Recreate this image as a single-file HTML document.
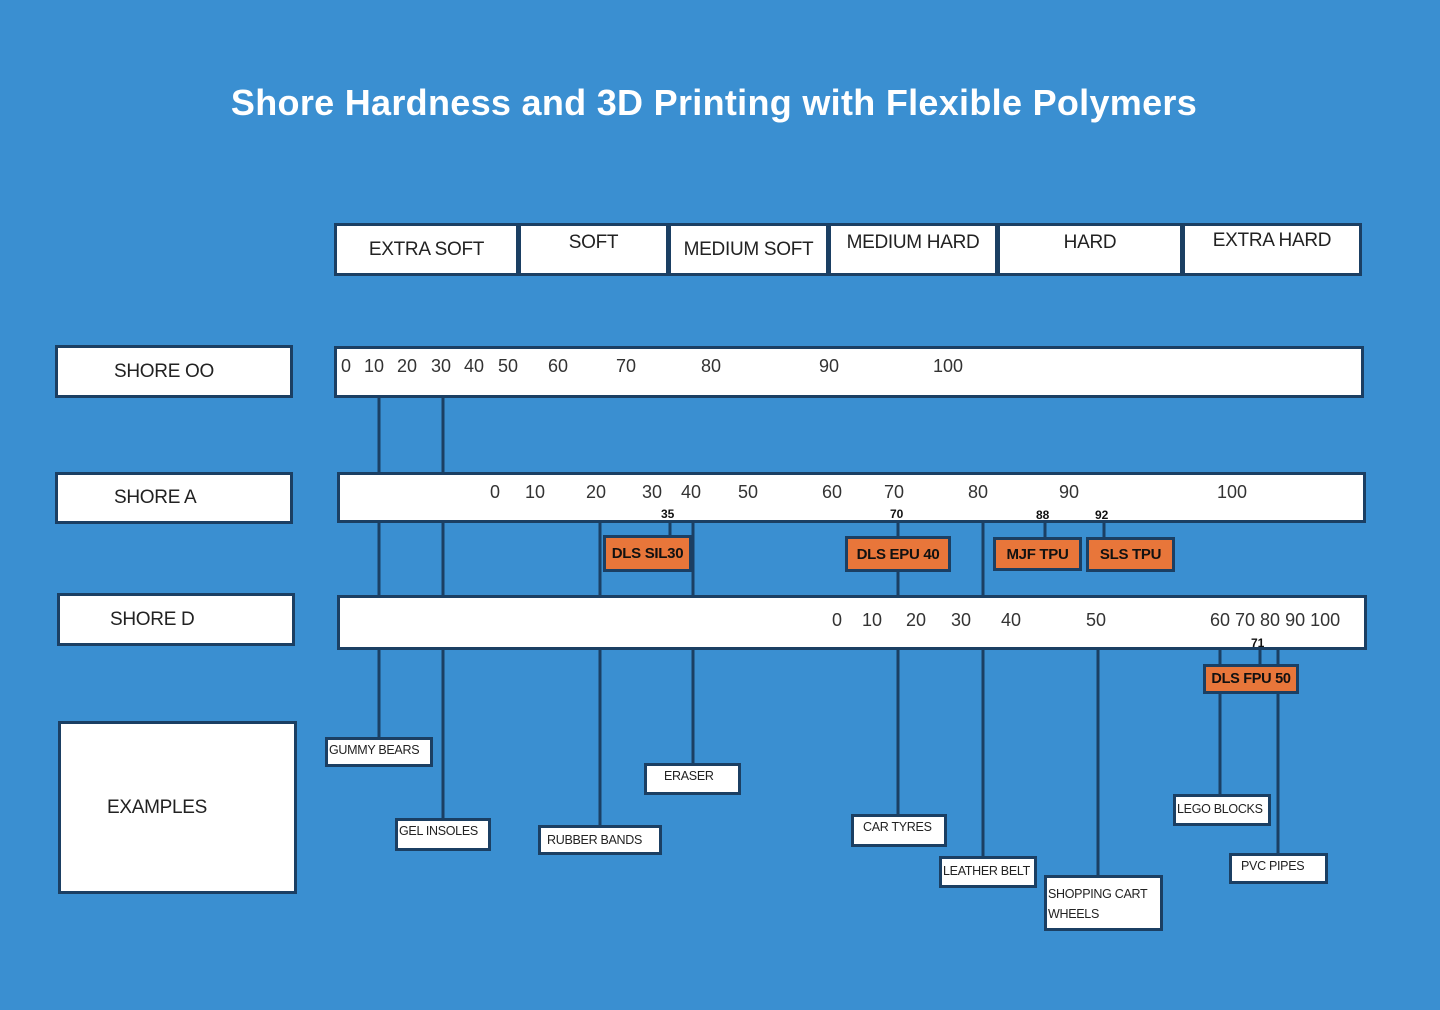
<!DOCTYPE html><html><head><style>
body{margin:0;width:1440px;height:1010px;background:#3a8fd1;position:relative;overflow:hidden;font-family:"Liberation Sans",sans-serif;}
.b{position:absolute;box-sizing:border-box;background:#fff;border:3px solid #1b3f63;color:#222;white-space:nowrap;}
.c{display:flex;align-items:center;justify-content:center;font-size:19px;letter-spacing:-0.3px;}
.t{position:absolute;font-size:18px;color:#333;white-space:nowrap;}
.o{position:absolute;box-sizing:border-box;background:#e8763a;border:3px solid #1b3f63;font-weight:bold;font-size:15px;color:#111;display:flex;align-items:center;justify-content:center;white-space:nowrap;letter-spacing:-0.3px;}
.e{position:absolute;box-sizing:border-box;background:#fff;border:3px solid #1b3f63;font-size:12.5px;color:#222;padding:0 1px;line-height:20px;white-space:nowrap;overflow:hidden;letter-spacing:-0.3px;}
.n{position:absolute;font-size:12px;font-weight:bold;color:#111;}
</style></head><body>
<div style="position:absolute;top:82px;left:0;width:1428px;text-align:center;color:#fff;font-weight:bold;font-size:36px;letter-spacing:0.3px">Shore Hardness and 3D Printing with Flexible Polymers</div>
<svg style="position:absolute;left:0;top:0" width="1440" height="1010"><g stroke="#1b3f63" stroke-width="3">
<line x1="379" y1="395" x2="379" y2="740"/><line x1="443" y1="395" x2="443" y2="820"/>
<line x1="600" y1="520" x2="600" y2="826"/><line x1="693" y1="520" x2="693" y2="765"/>
<line x1="898" y1="520" x2="898" y2="815"/><line x1="983" y1="520" x2="983" y2="857"/>
<line x1="1098" y1="648" x2="1098" y2="876"/><line x1="1220" y1="648" x2="1220" y2="795"/>
<line x1="1278" y1="648" x2="1278" y2="854"/><line x1="1260" y1="648" x2="1260" y2="665"/>
<line x1="670" y1="520" x2="670" y2="537"/><line x1="1045" y1="520" x2="1045" y2="538"/><line x1="1104" y1="520" x2="1104" y2="538"/>
</g></svg>
<div class="b c" style="left:334px;top:223px;width:185px;height:53px">EXTRA SOFT</div>
<div class="b c" style="left:518px;top:223px;width:151px;height:53px;align-items:flex-start;padding-top:6px">SOFT</div>
<div class="b c" style="left:668px;top:223px;width:161px;height:53px">MEDIUM SOFT</div>
<div class="b c" style="left:828px;top:223px;width:170px;height:53px;align-items:flex-start;padding-top:6px">MEDIUM HARD</div>
<div class="b c" style="left:997px;top:223px;width:186px;height:53px;align-items:flex-start;padding-top:6px">HARD</div>
<div class="b c" style="left:1182px;top:223px;width:180px;height:53px;align-items:flex-start;padding-top:4px">EXTRA HARD</div>
<div class="b c" style="left:55px;top:345px;width:238px;height:53px;justify-content:flex-start;padding-left:56px">SHORE OO</div>
<div class="b" style="left:334px;top:346px;width:1030px;height:52px"></div>
<div class="b c" style="left:55px;top:472px;width:238px;height:52px;justify-content:flex-start;padding-left:56px">SHORE A</div>
<div class="b" style="left:337px;top:472px;width:1029px;height:51px"></div>
<div class="b c" style="left:57px;top:593px;width:238px;height:53px;justify-content:flex-start;padding-left:50px">SHORE D</div>
<div class="b" style="left:337px;top:595px;width:1030px;height:55px"></div>
<div class="b c" style="left:58px;top:721px;width:239px;height:173px;justify-content:flex-start;padding-left:46px">EXAMPLES</div>
<div class="t" style="left:341px;top:356px">0</div><div class="t" style="left:364px;top:356px">10</div><div class="t" style="left:397px;top:356px">20</div><div class="t" style="left:431px;top:356px">30</div><div class="t" style="left:464px;top:356px">40</div><div class="t" style="left:498px;top:356px">50</div>
<div class="t" style="left:548px;top:356px">60</div><div class="t" style="left:616px;top:356px">70</div><div class="t" style="left:701px;top:356px">80</div><div class="t" style="left:819px;top:356px">90</div><div class="t" style="left:933px;top:356px">100</div>
<div class="t" style="left:490px;top:482px">0</div><div class="t" style="left:525px;top:482px">10</div><div class="t" style="left:586px;top:482px">20</div><div class="t" style="left:642px;top:482px">30</div><div class="t" style="left:681px;top:482px">40</div><div class="t" style="left:738px;top:482px">50</div><div class="t" style="left:822px;top:482px">60</div><div class="t" style="left:884px;top:482px">70</div><div class="t" style="left:968px;top:482px">80</div><div class="t" style="left:1059px;top:482px">90</div><div class="t" style="left:1217px;top:482px">100</div>
<div class="t" style="left:832px;top:610px">0</div><div class="t" style="left:862px;top:610px">10</div><div class="t" style="left:906px;top:610px">20</div><div class="t" style="left:951px;top:610px">30</div><div class="t" style="left:1001px;top:610px">40</div><div class="t" style="left:1086px;top:610px">50</div><div class="t" style="left:1210px;top:610px">60 70 80 90 100</div>
<div class="n" style="left:661px;top:507px">35</div><div class="n" style="left:890px;top:507px">70</div><div class="n" style="left:1036px;top:508px">88</div><div class="n" style="left:1095px;top:508px">92</div><div class="n" style="left:1251px;top:636px">71</div>
<div class="o" style="left:603px;top:535px;width:89px;height:37px">DLS SIL30</div>
<div class="o" style="left:845px;top:536px;width:106px;height:36px">DLS EPU 40</div>
<div class="o" style="left:993px;top:537px;width:89px;height:34px">MJF TPU</div>
<div class="o" style="left:1086px;top:537px;width:89px;height:35px">SLS TPU</div>
<div class="o" style="left:1203px;top:664px;width:96px;height:30px;font-size:14.5px">DLS FPU 50</div>
<div class="e" style="left:325px;top:737px;width:108px;height:30px">GUMMY BEARS</div>
<div class="e" style="left:395px;top:818px;width:96px;height:33px">GEL INSOLES</div>
<div class="e" style="left:538px;top:825px;width:124px;height:30px;padding-left:6px;line-height:24px">RUBBER BANDS</div>
<div class="e" style="left:644px;top:763px;width:97px;height:32px;padding-left:17px">ERASER</div>
<div class="e" style="left:851px;top:814px;width:96px;height:33px;padding-left:9px">CAR TYRES</div>
<div class="e" style="left:939px;top:856px;width:98px;height:32px;line-height:24px">LEATHER BELT</div>
<div class="e" style="left:1044px;top:875px;width:119px;height:56px;padding-top:6px;white-space:normal">SHOPPING CART WHEELS</div>
<div class="e" style="left:1173px;top:794px;width:98px;height:32px;line-height:24px">LEGO BLOCKS</div>
<div class="e" style="left:1229px;top:853px;width:99px;height:31px;padding-left:9px">PVC PIPES</div>
</body></html>
